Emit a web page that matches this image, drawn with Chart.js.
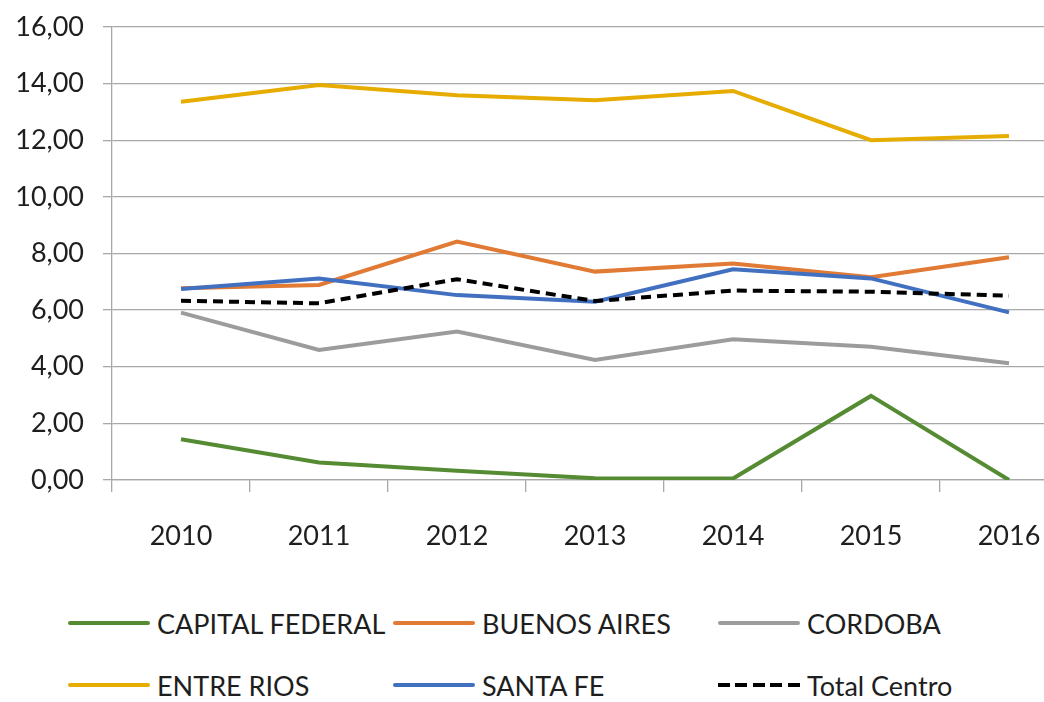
<!DOCTYPE html>
<html>
<head>
<meta charset="utf-8">
<script src="https://cdn.jsdelivr.net/npm/chart.js@4"></script>
<style>
  html, body { margin: 0; padding: 0; background: #fff; }
  #wrap { position: relative; width: 1044px; height: 702px; overflow: hidden; background: #fff; }
  #cv { position: absolute; left: 0; top: 0; }
  .leg { position: absolute; display: flex; align-items: center; height: 40px;
         font-family: Lato, 'Open Sans', sans-serif; font-size: 27px; color: #1e1e1e; white-space: nowrap; }
  .leg .ln { width: 82px; height: 4px; margin-right: 7px; border-radius: 2px; }
</style>
</head>
<body>
<div id="wrap">
  <canvas id="cv" width="1080" height="600"></canvas>
  <div id="legend"></div>
</div>
<script>
const categories = ['2010', '2011', '2012', '2013', '2014', '2015', '2016'];
const seriesNames = ['CAPITAL FEDERAL', 'BUENOS AIRES', 'CORDOBA', 'ENTRE RIOS', 'SANTA FE', 'Total Centro'];
const capitalFederal = [1.44, 0.62, 0.33, 0.06, 0.05, 2.97, 0.00];
const buenosAires    = [6.77, 6.89, 8.42, 7.36, 7.65, 7.16, 7.87];
const cordoba        = [5.91, 4.59, 5.24, 4.24, 4.97, 4.71, 4.12];
const entreRios      = [13.36, 13.95, 13.59, 13.41, 13.74, 12.00, 12.15];
const santaFe        = [6.75, 7.12, 6.53, 6.30, 7.44, 7.12, 5.92];
const totalCentro    = [6.33, 6.24, 7.09, 6.32, 6.69, 6.65, 6.51];
const yTicks = [0, 2, 4, 6, 8, 10, 12, 14, 16];

const seriesValues = [capitalFederal, buenosAires, cordoba, entreRios, santaFe, totalCentro];
const colors = ['#558b33', '#e07a34', '#9c9c9c', '#e6ac00', '#4270c0', '#000000'];
const dashes = [[], [], [], [], [], [10, 6]];

const FONT = { family: "Lato, 'Open Sans', sans-serif", size: 27 };
const GRID = '#a8a8a8';

const datasets = seriesNames.map((name, i) => ({
  label: name,
  data: seriesValues[i],
  borderColor: colors[i],
  backgroundColor: colors[i],
  borderWidth: 4,
  borderDash: dashes[i],
  pointRadius: 0,
  pointHoverRadius: 0,
  tension: 0,
  fill: false,
  order: seriesNames.length - 1 - i
}));

new Chart(document.getElementById('cv'), {
  type: 'line',
  data: { labels: categories, datasets },
  options: {
    responsive: false,
    devicePixelRatio: 1,
    animation: false,
    layout: { padding: { top: 27, right: 2, left: 0, bottom: 0 } },
    plugins: { legend: { display: false }, tooltip: { enabled: false } },
    scales: {
      x: {
        type: 'category',
        offset: true,
        grid: { offset: true, drawOnChartArea: false, drawTicks: true, tickLength: 12, color: GRID, lineWidth: 1.3 },
        border: { display: true, color: GRID, width: 1.3 },
        ticks: { font: FONT, color: '#1e1e1e', padding: 28, maxRotation: 0, autoSkip: false },
        afterFit: (s) => { s.height = 120; s.paddingLeft = 0; s.paddingRight = 0; }
      },
      y: {
        min: 0, max: 16,
        afterBuildTicks: (s) => { s.ticks = yTicks.map(v => ({ value: v })); },
        grid: { color: GRID, lineWidth: 1.3, tickLength: 9, drawTicks: true },
        border: { display: true, color: GRID, width: 1.3 },
        ticks: {
          font: FONT, color: '#1e1e1e', padding: 19,
          callback: (v) => Number(v).toFixed(2).replace('.', ',')
        },
        afterFit: (s) => { s.width = 112; s.paddingTop = 0; s.paddingBottom = 0; }
      }
    }
  }
});

// Legend (3 columns x 2 rows)
const legCols = [68, 393, 718];
const legRows = [603, 665];
const leg = document.getElementById('legend');
seriesNames.forEach((name, i) => {
  const d = document.createElement('div');
  d.className = 'leg';
  d.style.left = legCols[i % 3] + 'px';
  d.style.top = legRows[Math.floor(i / 3)] + 'px';
  const ln = document.createElement('div');
  ln.className = 'ln';
  if (dashes[i].length) {
    ln.style.borderRadius = '0';
    ln.style.background = 'repeating-linear-gradient(to right, ' + colors[i] + ' 0 12px, transparent 12px 17.5px)';
  } else {
    ln.style.background = colors[i];
  }
  const t = document.createElement('span');
  t.textContent = name;
  d.appendChild(ln); d.appendChild(t);
  leg.appendChild(d);
});
</script>
</body>
</html>
